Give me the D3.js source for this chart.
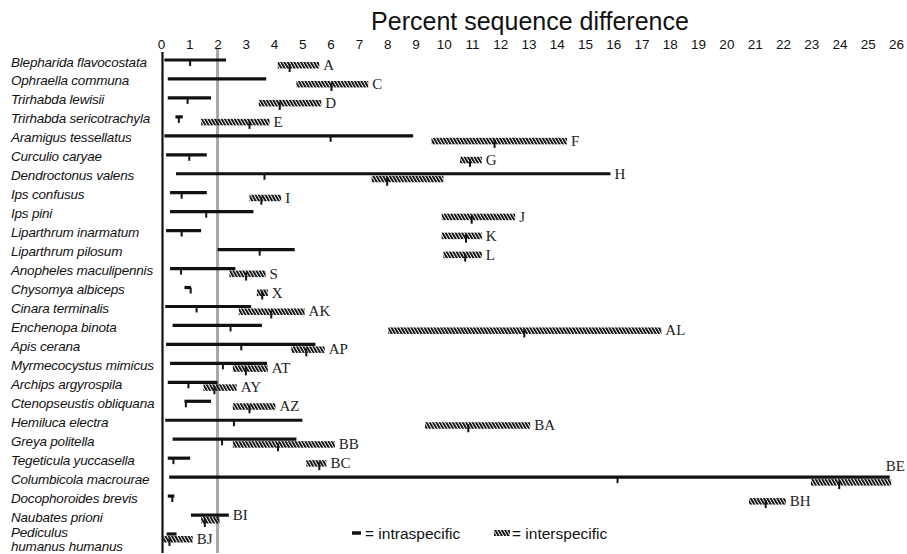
<!DOCTYPE html>
<html>
<head>
<meta charset="utf-8">
<script src="https://cdn.jsdelivr.net/npm/d3@7/dist/d3.min.js"></script>
<style>
  html, body { margin: 0; padding: 0; background: #fff; }
  svg { display: block; }
</style>
</head>
<body>
<svg id="chart" width="907" height="554"></svg>
<script>
// ---------------- data ----------------
const species = [
  "Blepharida flavocostata", "Ophraella communa", "Trirhabda lewisii", "Trirhabda sericotrachyla",
  "Aramigus tessellatus", "Curculio caryae", "Dendroctonus valens", "Ips confusus", "Ips pini",
  "Liparthrum inarmatum", "Liparthrum pilosum", "Anopheles maculipennis", "Chysomya albiceps",
  "Cinara terminalis", "Enchenopa binota", "Apis cerana", "Myrmecocystus mimicus",
  "Archips argyrospila", "Ctenopseustis obliquana", "Hemiluca electra", "Greya politella",
  "Tegeticula yuccasella", "Columbicola macrourae", "Docophoroides brevis", "Naubates prioni",
  "Pediculus|humanus humanus"
];
const letters = ["A","C","D","E","F","G","H","I","J","K","L","S","X","AK","AL","AP","AT","AY","AZ","BA","BB","BC","BE","BH","BI","BJ"];

const intraMin  = [0.12, 0.24, 0.24, 0.51, 0.12, 0.18, 0.53, 0.32, 0.32, 0.18, 2.00, 0.32, 0.83, 0.15, 0.41, 0.18, 0.32, 0.24, 0.83, 0.15, 0.41, 0.24, 0.29, 0.24, 1.06, 0.20];
const intraMean = [1.03, null, 0.94, 0.63, 6.00, 1.00, 3.66, 0.73, 1.60, 0.73, 3.49, 0.71, 1.05, 1.26, 2.46, 2.84, 2.19, 0.97, 0.88, 2.58, 2.16, 0.44, 16.15, 0.40, null, null];
const intraMax  = [2.30, 3.72, 1.77, 0.77, 8.92, 1.62, 15.90, 1.62, 3.27, 1.42, 4.73, 2.63, 1.06, 3.19, 3.57, 5.46, 3.75, 2.00, 1.77, 5.00, 4.79, 1.03, 25.78, 0.47, 2.40, 0.55];

const interMin  = [4.13, 4.79, 3.46, 1.42, 9.57, 10.58, 7.45, 3.13, 9.93, 9.93, 9.99, 2.42, 3.39, 2.75, 8.04, 4.61, 2.54, 1.50, 2.54, 9.34, 2.54, 5.14, 22.99, 20.80, 1.42, 0.08];
const interMean = [4.55, 6.03, 4.20, 3.13, 11.80, 10.93, 8.00, 3.55, 10.99, 10.79, 10.76, 3.01, 3.58, 3.90, 12.85, 5.14, 3.00, 1.89, 3.13, 10.87, 4.14, 5.60, 23.99, 21.39, 1.55, 0.30];
const interMax  = [5.60, 7.33, 5.67, 3.84, 14.36, 11.35, 9.99, 4.25, 12.53, 11.35, 11.35, 3.70, 3.78, 5.08, 17.70, 5.79, 3.78, 2.68, 4.05, 13.06, 6.15, 5.85, 25.83, 22.10, 2.07, 1.12];

const tickValues = d3.range(0, 27);
const refLine = 2;
const titleText = "Percent sequence difference";
const legendIntra = "= intraspecific";
const legendInter = "= interspecific";

// ---------------- drawing ----------------
const svg = d3.select("#chart");
const x = d3.scaleLinear().domain([0, 26]).range([161, 896]);
const y = d3.scalePoint().domain(d3.range(species.length)).range([60, 534]);

const defs = svg.append("defs");
const pat = defs.append("pattern")
  .attr("id", "hatch")
  .attr("patternUnits", "userSpaceOnUse")
  .attr("width", 3.3).attr("height", 20)
  .attr("patternTransform", "skewX(30)");
pat.append("rect").attr("x", 0).attr("y", 0).attr("width", 2.2).attr("height", 20).attr("fill", "#111");

// title
svg.append("text")
  .attr("x", 530).attr("y", 30)
  .attr("text-anchor", "middle")
  .attr("font-family", "Liberation Sans, Arial, sans-serif")
  .attr("font-size", 25)
  .attr("fill", "#111")
  .text(titleText);

// top axis labels
const axis = d3.axisTop(x).tickValues(tickValues).tickSize(0).tickPadding(0).tickFormat(d3.format("d"));
const gAxis = svg.append("g").attr("transform", "translate(0,49)").call(axis);
gAxis.select(".domain").remove();
gAxis.selectAll("text")
  .attr("font-family", "Liberation Sans, Arial, sans-serif")
  .attr("font-size", 13.5)
  .attr("fill", "#111");

// reference line at 2
svg.append("line")
  .attr("x1", x(refLine)).attr("x2", x(refLine))
  .attr("y1", 49).attr("y2", 553)
  .attr("stroke", "#a8a8a8").attr("stroke-width", 3);

// vertical axis line
svg.append("line")
  .attr("x1", x(0) + 1.5).attr("x2", x(0) + 1.5)
  .attr("y1", 52).attr("y2", 553)
  .attr("stroke", "#111").attr("stroke-width", 2.2);

// species labels
const gLab = svg.append("g")
  .attr("font-family", "Liberation Sans, Arial, sans-serif")
  .attr("font-style", "italic")
  .attr("font-size", 13.5)
  .attr("letter-spacing", "-0.2")
  .attr("fill", "#111");
species.forEach((s, i) => {
  const parts = s.split("|");
  const t = gLab.append("text").attr("x", 11).attr("y", parts.length > 1 ? y(i) + 2.5 : y(i) + 6.5);
  parts.forEach((p, k) => {
    t.append("tspan").attr("x", 11).attr("dy", k === 0 ? 0 : 14).text(p);
  });
});

const rows = d3.range(species.length);

// interspecific (hatched) bars
const gInter = svg.append("g");
gInter.selectAll("rect").data(rows).join("rect")
  .attr("x", i => x(interMin[i]))
  .attr("y", i => y(i) + 2)
  .attr("width", i => x(interMax[i]) - x(interMin[i]))
  .attr("height", 6.5)
  .attr("fill", "url(#hatch)");
gInter.selectAll("line").data(rows.filter(i => interMean[i] != null)).join("line")
  .attr("x1", i => x(interMean[i])).attr("x2", i => x(interMean[i]))
  .attr("y1", i => y(i) + 4).attr("y2", i => y(i) + 12)
  .attr("stroke", "#111").attr("stroke-width", 2);

// intraspecific (solid) bars
const gIntra = svg.append("g");
gIntra.selectAll("line.bar").data(rows).join("line")
  .attr("class", "bar")
  .attr("x1", i => x(intraMin[i])).attr("x2", i => x(intraMax[i]))
  .attr("y1", i => y(i)).attr("y2", i => y(i))
  .attr("stroke", "#111").attr("stroke-width", 3.2);
gIntra.selectAll("line.mean").data(rows.filter(i => intraMean[i] != null)).join("line")
  .attr("class", "mean")
  .attr("x1", i => x(intraMean[i])).attr("x2", i => x(intraMean[i]))
  .attr("y1", i => y(i)).attr("y2", i => y(i) + 6)
  .attr("stroke", "#111").attr("stroke-width", 2);

// letter labels
const gLet = svg.append("g")
  .attr("font-family", "Liberation Serif, Times New Roman, serif")
  .attr("font-size", 15)
  .attr("fill", "#222");
rows.forEach(i => {
  const intraLonger = intraMax[i] > interMax[i];
  const end = Math.max(intraMax[i], interMax[i]);
  if (end > 25) {
    gLet.append("text").attr("x", 905).attr("y", y(i) - 6)
      .attr("text-anchor", "end").text(letters[i]);
  } else {
    gLet.append("text")
      .attr("x", x(end) + 4)
      .attr("y", intraLonger ? y(i) + 5 : y(i) + 10)
      .text(letters[i]);
  }
});

// legend
svg.append("line")
  .attr("x1", 352).attr("x2", 361).attr("y1", 533).attr("y2", 533)
  .attr("stroke", "#111").attr("stroke-width", 3.5);
svg.append("text").attr("x", 365).attr("y", 538.5)
  .attr("font-family", "Liberation Sans, Arial, sans-serif").attr("font-size", 15.5).attr("fill", "#111")
  .text(legendIntra);
svg.append("rect").attr("x", 494).attr("y", 530).attr("width", 16).attr("height", 6)
  .attr("fill", "url(#hatch)");
svg.append("text").attr("x", 512).attr("y", 538.5)
  .attr("font-family", "Liberation Sans, Arial, sans-serif").attr("font-size", 15.5).attr("fill", "#111")
  .text(legendInter);
</script>
</body>
</html>
